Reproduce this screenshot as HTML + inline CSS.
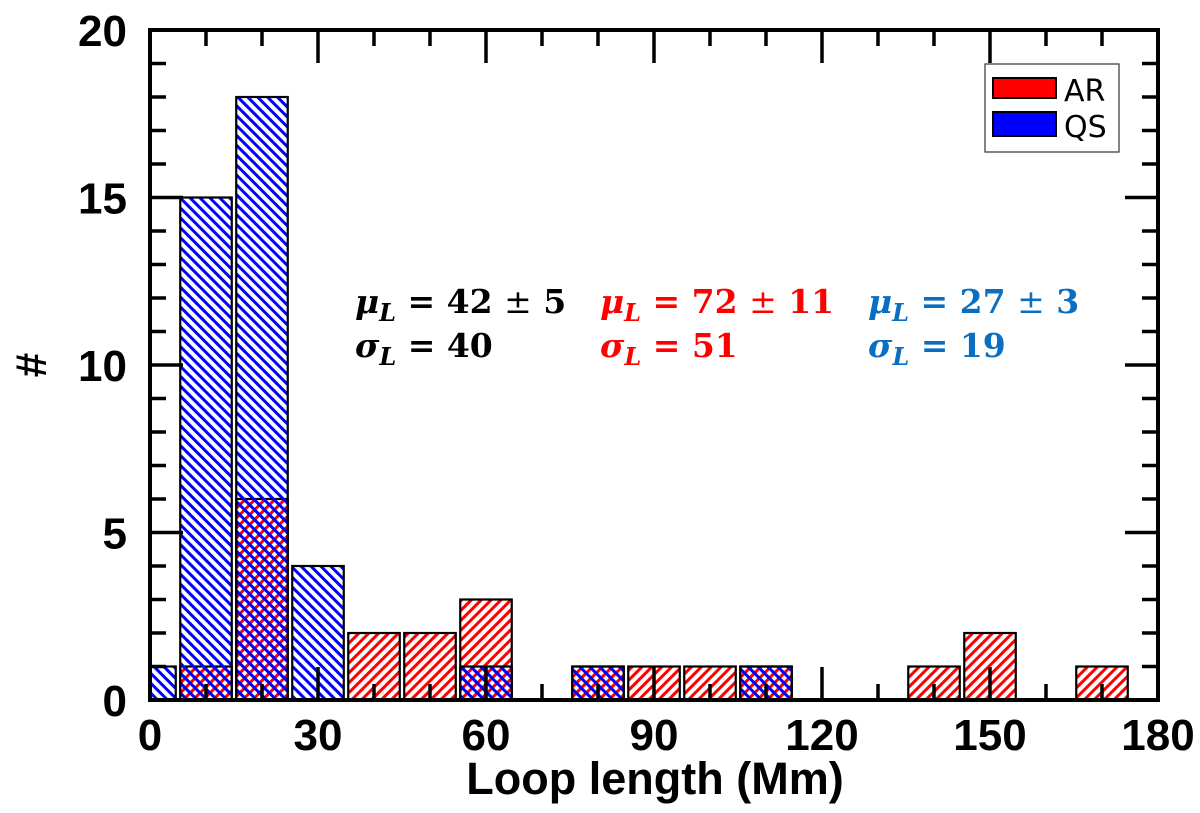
<!DOCTYPE html>
<html><head><meta charset="utf-8"><style>
html,body{margin:0;padding:0;background:#fff;}
svg{display:block;}
</style></head><body>
<svg id="chart" width="1200" height="813" xmlns="http://www.w3.org/2000/svg">
<defs>
<pattern id="hatchR" patternUnits="userSpaceOnUse" width="7" height="7" patternTransform="rotate(45)">
<rect x="0" y="0" width="3" height="7" fill="#ff0000"/></pattern>
<pattern id="hatchB" patternUnits="userSpaceOnUse" width="7" height="7" patternTransform="rotate(-45)">
<rect x="0" y="0" width="3" height="7" fill="#0000ff"/></pattern>
</defs>
<g id="bars"></g>
<g id="axes"></g>
<g>
<rect x="985" y="64" width="134" height="88" fill="#fff" stroke="#333" stroke-width="1.2"/>
<rect x="993" y="78" width="63" height="20" fill="#ff0000" stroke="#000" stroke-width="2"/>
<text x="1064" y="101" font-family="DejaVu Sans, sans-serif" font-size="30">AR</text>
<rect x="993" y="112" width="63" height="24" fill="#0000ff" stroke="#000" stroke-width="2"/>
<text x="1064" y="137" font-family="DejaVu Sans, sans-serif" font-size="30">QS</text>
</g>
<g font-family="DejaVu Serif, serif" font-weight="bold" font-size="33">
<text x="355" y="313" fill="#000"><tspan font-style="italic">μ</tspan><tspan font-style="italic" font-size="24" dy="8">L</tspan><tspan dy="-8"> = 42 </tspan><tspan font-weight="normal">±</tspan> 5</text>
<text x="355" y="357" fill="#000"><tspan font-style="italic">σ</tspan><tspan font-style="italic" font-size="24" dy="8">L</tspan><tspan dy="-8"> = 40</tspan></text>
<text x="600" y="313" fill="#ff0000"><tspan font-style="italic">μ</tspan><tspan font-style="italic" font-size="24" dy="8">L</tspan><tspan dy="-8"> = 72 </tspan><tspan font-weight="normal">±</tspan> 11</text>
<text x="600" y="357" fill="#ff0000"><tspan font-style="italic">σ</tspan><tspan font-style="italic" font-size="24" dy="8">L</tspan><tspan dy="-8"> = 51</tspan></text>
<text x="868" y="313" fill="#0a6fc0"><tspan font-style="italic">μ</tspan><tspan font-style="italic" font-size="24" dy="8">L</tspan><tspan dy="-8"> = 27 </tspan><tspan font-weight="normal">±</tspan> 3</text>
<text x="868" y="357" fill="#0a6fc0"><tspan font-style="italic">σ</tspan><tspan font-style="italic" font-size="24" dy="8">L</tspan><tspan dy="-8"> = 19</tspan></text>
</g>
<text x="655" y="794" text-anchor="middle" font-family="Liberation Sans, sans-serif" font-weight="bold" font-size="45">Loop length (Mm)</text>
<text transform="translate(46,365) rotate(-90)" text-anchor="middle" font-family="Liberation Sans, sans-serif" font-weight="bold" font-size="44">#</text>
</svg>
<script>
const binCenters = [0,10,20,30,40,50,60,70,80,90,100,110,120,130,140,150,160,170];
const arCounts   = [0,1,6,0,2,2,3,0,1,1,1,1,0,0,1,2,0,1];
const qsCounts   = [1,15,18,4,0,0,1,0,1,0,0,1,0,0,0,0,0,0];
const xTicks = [0,30,60,90,120,150,180];
const yTicks = [0,5,10,15,20];
const NS = 'http://www.w3.org/2000/svg';
const X0=150, X1=1158, Y0=700, Y1=30;
const xs = v => X0 + (v-0)/(180-0)*(X1-X0);
const ys = v => Y0 - v/20*(Y0-Y1);
const halfW = 4.6;
function mk(tag, attrs, parent){const e=document.createElementNS(NS,tag);for(const k in attrs)e.setAttribute(k,attrs[k]);parent.appendChild(e);return e;}
const bars=document.getElementById('bars');
function drawSeries(counts, fill, name){
  counts.forEach((c,i)=>{
    if(!c) return;
    const l=Math.max(0,binCenters[i]-halfW), r=binCenters[i]+halfW;
    const el=mk('rect',{x:xs(l),y:ys(c),width:xs(r)-xs(l),height:ys(0)-ys(c),fill:fill,stroke:'#000','stroke-width':2.2},bars);
    
    
  });
}
arCounts.forEach((c,i)=>{const m=Math.max(c,qsCounts[i]); if(!m)return; const l=Math.max(0,binCenters[i]-halfW), r=binCenters[i]+halfW; mk('rect',{x:xs(l),y:ys(m),width:xs(r)-xs(l),height:ys(0)-ys(m),fill:'#fff'},bars);});
drawSeries(arCounts,'url(#hatchR)','ar');
drawSeries(qsCounts,'url(#hatchB)','qs');
const axes=document.getElementById('axes');
const frame=mk('rect',{x:X0,y:Y1,width:X1-X0,height:Y0-Y1,fill:'none',stroke:'#000','stroke-width':4},axes);


for(let v=0;v<=180;v+=10){
  const L=(v%30===0)?33:16, x=xs(v);
  mk('line',{x1:x,y1:Y0,x2:x,y2:Y0-L,stroke:'#000','stroke-width':3.5},axes);
  mk('line',{x1:x,y1:Y1,x2:x,y2:Y1+L,stroke:'#000','stroke-width':3.5},axes);
}
for(let v=0;v<=20;v+=1){
  const L=(v%5===0)?33:16, y=ys(v);
  mk('line',{x1:X0,y1:y,x2:X0+L,y2:y,stroke:'#000','stroke-width':3.5},axes);
  mk('line',{x1:X1,y1:y,x2:X1-L,y2:y,stroke:'#000','stroke-width':3.5},axes);
}
xTicks.forEach(v=>{
  const t=mk('text',{x:xs(v),y:750,'text-anchor':'middle','font-family':'Liberation Sans, sans-serif','font-weight':'bold','font-size':44},axes);
  t.textContent=v;
  
  
});
yTicks.forEach(v=>{
  const t=mk('text',{x:127,y:ys(v)+16,'text-anchor':'end','font-family':'Liberation Sans, sans-serif','font-weight':'bold','font-size':44},axes);
  t.textContent=v;
  
  
});
</script>
</body></html>
